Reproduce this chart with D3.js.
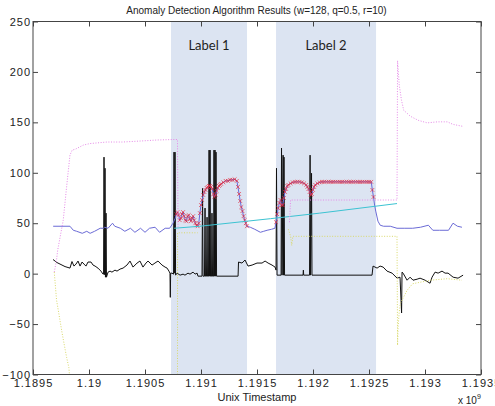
<!DOCTYPE html>
<html>
<head>
<meta charset="utf-8">
<script src="https://cdn.jsdelivr.net/npm/d3@7"></script>
<style>
body { margin: 0; background: #fff; }
text { font-family: "Liberation Sans", Arial, sans-serif; }
</style>
</head>
<body>
<svg id="chart" width="495" height="406"></svg>
<script>
// timestamps are in units of 1e9 s (axis shows "x 10^9")
var titleText = "Anomaly Detection Algorithm Results (w=128, q=0.5, r=10)";
var xTicks = [1.1895, 1.19, 1.1905, 1.191, 1.1915, 1.192, 1.1925, 1.193, 1.1935];
var xTickLabels = ["1.1895", "1.19", "1.1905", "1.191", "1.1915", "1.192", "1.1925", "1.193", "1.1935"];
var yTicks = [-100, -50, 0, 50, 100, 150, 200, 250];

// labelled regions
var labelNames = ["Label 1", "Label 2"];
var labelRanges = [[1.190732, 1.191411], [1.19167, 1.192563]];

// ranges flagged by the detector (red x markers)
var detected = [[1.19078, 1.19141], [1.19167, 1.19254]];

// raw signal (black)
var signal = [
  [1.189679, 14], [1.189714, 11], [1.18975, 9], [1.189786, 7], [1.18983, 5.5], [1.189848, 12],
  [1.189866, 7.5], [1.189884, 9.5], [1.189902, 12.5], [1.18992, 7.5], [1.189938, 11.5], [1.189955, 9.5],
  [1.189973, 7.5], [1.189991, 11.5], [1.190018, 11.5], [1.190036, 8.5], [1.190054, 7.5], [1.19008, 5.5],
  [1.190107, 2.5], [1.190125, -0.5], [1.19013, -0.5], [1.190134, 115.5], [1.190139, -1], [1.190143, 104.5],
  [1.190147, -3.5], [1.190152, 60], [1.190156, -3.5], [1.19017, 1.5], [1.190188, 2.5], [1.190205, 1.5],
  [1.190232, 3.5], [1.19025, 2.5], [1.190277, 4.5], [1.190304, 5.5], [1.190339, 8.5], [1.190366, 12.5],
  [1.190393, 6.5], [1.190429, 10.5], [1.190455, 12.5], [1.190482, 6.5], [1.190509, 10.5], [1.190527, 12.5],
  [1.190563, 8.5], [1.190589, 10.5], [1.190616, 12.5], [1.190652, 8.5], [1.190679, 6.5], [1.190697, 5.5],
  [1.190714, 2.5], [1.190723, 0.5], [1.190726, -23.5], [1.190729, 0.5], [1.190741, 0.5], [1.190755, -0.5],
  [1.190759, 120.5], [1.190764, 0.5], [1.190768, 120.5], [1.190773, -1.5], [1.190786, 0.5], [1.190813, -1.5],
  [1.19084, -0.5], [1.190857, -1.5], [1.190884, 0.5], [1.190902, -0.5], [1.190929, 1.5], [1.190947, -0.5],
  [1.190965, 0.5], [1.190973, -2.5], [1.191009, -2.5], [1.191014, 84.5], [1.191018, -2.5], [1.191031, -2.5],
  [1.191036, 65], [1.19104, -2.5], [1.191049, -2.5], [1.191054, 56], [1.191058, -2.5], [1.191067, -2.5],
  [1.191072, 122.5], [1.191076, -2.5], [1.191081, 122.5], [1.191085, -2.5], [1.191094, -2.5], [1.191098, 60],
  [1.191103, -2.5], [1.191112, -2.5], [1.191116, 122.5], [1.191121, -2.5], [1.191125, 122.5], [1.19113, -2.5],
  [1.191134, 120.5], [1.191139, -2.5], [1.191331, -2.5], [1.191335, 11.5], [1.191366, 10.5], [1.191393, 13.5],
  [1.19142, 7.5], [1.191456, 8.5], [1.1915, 10.5], [1.191545, 10.5], [1.191572, 12.5], [1.191599, 10.5],
  [1.191634, 8.5], [1.191661, 6.5], [1.19167, 3.5], [1.191674, 104.5], [1.191679, -1.5], [1.191715, -1.5],
  [1.191719, 124.5], [1.191724, -1.5], [1.191733, 117.5], [1.191737, -1.5], [1.191741, 115.5], [1.191746, -1.5],
  [1.191911, -1.5], [1.191914, 3.5], [1.191917, -1.5], [1.191969, -1.5], [1.191974, 117.5], [1.191978, -1.5],
  [1.191987, 99.5], [1.191991, -1.5], [1.192527, -1.5], [1.192536, 7.5], [1.192572, 5.5], [1.192599, 7.5],
  [1.192626, 6.5], [1.192661, 2.5], [1.192706, 0.5], [1.192751, -4.5], [1.192777, -3.5], [1.192791, -39],
  [1.192795, 1.5], [1.192804, 0.5], [1.19284, -6.5], [1.192867, -3.5], [1.192893, -6.5], [1.192929, -5.5],
  [1.192956, -4.5], [1.193001, -6.5], [1.193045, -9.5], [1.193063, -3.5], [1.19309, 1.5], [1.193117, 0.5],
  [1.193152, 2.5], [1.193179, 0.5], [1.193206, 0.5], [1.193251, -3.5], [1.193295, -4.5], [1.19334, -1.5]
];

// windowed statistic (blue)
var movingAvg = [
  [1.18968, 47], [1.18983, 47], [1.18986, 43], [1.18989, 42], [1.18994, 40], [1.18998, 42], [1.19001, 40],
  [1.19005, 42], [1.1901, 45], [1.19013, 45], [1.19014, 46], [1.19017, 45], [1.19021, 50], [1.19023, 47],
  [1.19028, 45], [1.19032, 42], [1.19037, 45], [1.19041, 41], [1.19046, 45], [1.1905, 41], [1.19054, 45],
  [1.19059, 46], [1.19063, 41], [1.19068, 45], [1.19072, 45], [1.19075, 50], [1.19077, 55],
  [1.19078, 59], [1.19079, 61], [1.1908, 58], [1.19081, 53], [1.19082, 55], [1.19083, 59], [1.19084, 61],
  [1.19085, 57], [1.19086, 53], [1.19087, 52], [1.19088, 57], [1.19089, 58], [1.1909, 54], [1.19091, 52],
  [1.19092, 55], [1.19093, 57], [1.19094, 53], [1.19095, 50], [1.19096, 48], [1.19097, 47], [1.19098, 50],
  [1.19099, 60], [1.191, 68], [1.19101, 73], [1.19102, 78], [1.19103, 81], [1.19104, 83], [1.19105, 85],
  [1.19106, 86], [1.19107, 87], [1.19108, 87], [1.19109, 86], [1.1911, 84], [1.19111, 79], [1.19112, 76],
  [1.19113, 78], [1.19114, 82], [1.19115, 85], [1.19116, 87], [1.19117, 88], [1.19118, 89], [1.1912, 90.5],
  [1.19122, 92], [1.19124, 92], [1.19126, 93], [1.19128, 93], [1.1913, 93.5], [1.19132, 92], [1.19133, 86],
  [1.19134, 79], [1.19135, 72], [1.19136, 66], [1.19137, 62], [1.19138, 57], [1.19139, 53], [1.1914, 50],
  [1.19141, 47],
  [1.19144, 46], [1.19148, 44], [1.19153, 41], [1.19156, 42], [1.19159, 43], [1.19163, 44], [1.19166, 45],
  [1.19167, 51], [1.19168, 59], [1.19169, 65], [1.1917, 70], [1.19171, 73], [1.19172, 68], [1.19173, 68],
  [1.19174, 75], [1.19175, 81], [1.19176, 84], [1.19177, 87], [1.19178, 88], [1.1918, 89.5], [1.19182, 90.5],
  [1.19184, 91], [1.19186, 91], [1.19188, 91], [1.1919, 90.5], [1.19192, 89.5], [1.19194, 88], [1.19195, 86],
  [1.19196, 84], [1.19197, 81], [1.19198, 78], [1.19199, 79], [1.192, 83], [1.19201, 86], [1.19202, 88],
  [1.19204, 89.5], [1.19206, 90.5], [1.19208, 91], [1.1921, 91], [1.19212, 91], [1.19214, 91], [1.19216, 91],
  [1.19218, 91], [1.1922, 91], [1.19222, 91], [1.19224, 91], [1.19226, 91], [1.19228, 91], [1.1923, 91],
  [1.19232, 91], [1.19234, 91], [1.19236, 91], [1.19238, 91], [1.1924, 91], [1.19242, 91], [1.19244, 91],
  [1.19246, 91], [1.19248, 91], [1.1925, 91], [1.19252, 91], [1.19253, 83], [1.19254, 76], [1.19255, 68],
  [1.19256, 62], [1.19258, 52], [1.1926, 48],
  [1.19263, 47], [1.19269, 47], [1.19275, 45], [1.19282, 45], [1.19289, 45], [1.19296, 46], [1.19303, 48],
  [1.19307, 43], [1.19313, 43], [1.19321, 43], [1.19325, 50], [1.19329, 47], [1.19333, 46]
];

// trend (cyan)
var trend = [[1.19076, 45], [1.19099, 47], [1.19162, 54.5], [1.19206, 60], [1.19275, 69.5]];

// upper bound (magenta dotted), null = gap
var upperBound = [
  [1.18969, 1.5], [1.18971, 13.5], [1.18972, 23], [1.18975, 41], [1.18977, 53], [1.1898, 86],
  [1.18983, 117.5], [1.18985, 122.5], [1.18988, 123.5], [1.18995, 127.5], [1.19001, 129], [1.19016, 130.5],
  [1.1903, 130.5], [1.19046, 131.5], [1.19061, 132.5], [1.19075, 133], [1.19079, 133], [1.190795, 44],
  [1.1912, null],
  [1.19179, 51], [1.1918, 73], [1.19275, 73], [1.192755, 211], [1.19277, 187], [1.19279, 172],
  [1.19281, 162], [1.19287, 156], [1.19294, 152], [1.19302, 149.5], [1.19311, 150.5], [1.1932, 150.5],
  [1.19325, 148], [1.19334, 146]
];

// lower bound (yellow dotted), null = gap
var lowerBound = [
  [1.18969, 1.5], [1.18971, -26], [1.18976, -59], [1.1898, -83], [1.18982, -93], [1.18983, -106],
  [1.18985, -125], [1.19079, -140], [1.190791, 40.5], [1.19097, 40.5],
  [1.1912, null],
  [1.19178, 44], [1.1918, 37], [1.19181, 28], [1.19182, 37], [1.19275, 37], [1.192755, -71],
  [1.19276, -52], [1.19277, -38], [1.19278, -29.5], [1.19284, -16.5], [1.19289, -10], [1.19305, -6.5],
  [1.1932, -5], [1.19333, -6.5]
];

var svg = d3.select("#chart"),
    margin = {top: 21.5, left: 33, bottom: 31.5, right: 14},
    width = +svg.attr("width"),
    height = +svg.attr("height");

var x = d3.scaleLinear()
  .domain([xTicks[0], xTicks[xTicks.length - 1]])
  .range([margin.left, width - margin.right]);
var y = d3.scaleLinear()
  .domain([yTicks[0], yTicks[yTicks.length - 1]])
  .range([height - margin.bottom, margin.top]);

svg.append("defs").append("clipPath").attr("id", "plot")
  .append("rect")
  .attr("x", margin.left).attr("y", margin.top)
  .attr("width", x.range()[1] - x.range()[0])
  .attr("height", y.range()[0] - y.range()[1]);

var plot = svg.append("g").attr("clip-path", "url(#plot)");

// label regions
plot.selectAll("rect.region")
  .data(labelRanges).enter().append("rect")
  .attr("class", "region")
  .attr("x", d => x(d[0]))
  .attr("width", d => x(d[1]) - x(d[0]))
  .attr("y", margin.top)
  .attr("height", y.range()[0] - y.range()[1])
  .attr("fill", "#dce4f2");

plot.selectAll("text.region")
  .data(labelRanges).enter().append("text")
  .attr("class", "region")
  .attr("x", d => (x(d[0]) + x(d[1])) / 2)
  .attr("y", 50)
  .attr("text-anchor", "middle")
  .style("font-family", "Lato, 'Open Sans', sans-serif")
  .style("font-size", "13px")
  .attr("fill", "#1e1e1e")
  .text((d, i) => labelNames[i]);

var line = d3.line()
  .defined(d => d[1] != null)
  .x(d => x(d[0]))
  .y(d => y(d[1]));

plot.append("path").datum(signal)
  .attr("d", line).attr("fill", "none")
  .attr("stroke", "#111").attr("stroke-width", 1);

plot.append("path").datum(movingAvg)
  .attr("d", line).attr("fill", "none")
  .attr("stroke", "#6b6bd6").attr("stroke-width", 1);

var flagged = movingAvg.filter(d => detected.some(r => d[0] >= r[0] && d[0] <= r[1]));
plot.selectAll("path.mark")
  .data(flagged).enter().append("path")
  .attr("class", "mark")
  .attr("transform", d => `translate(${x(d[0])},${y(d[1])})`)
  .attr("d", "M-1.9,-1.9L1.9,1.9M-1.9,1.9L1.9,-1.9")
  .attr("stroke", "#e3263a").attr("stroke-width", 0.8)
  .attr("stroke-opacity", 0.85).attr("fill", "none");

plot.append("path").datum(trend)
  .attr("d", line).attr("fill", "none")
  .attr("stroke", "#3cc3d2").attr("stroke-width", 1);

plot.append("path").datum(upperBound)
  .attr("d", line).attr("fill", "none")
  .attr("stroke", "#e68ae8").attr("stroke-width", 1)
  .attr("stroke-dasharray", "1,1.6");

plot.append("path").datum(lowerBound)
  .attr("d", line).attr("fill", "none")
  .attr("stroke", "#d8d86a").attr("stroke-width", 1)
  .attr("stroke-dasharray", "1,1.6");

// axes, MATLAB style box with inward ticks
var axisColor = "#444";
function styleAxis(g) {
  g.select(".domain").remove();
  g.selectAll(".tick line").attr("stroke", axisColor);
  g.selectAll(".tick text")
    .attr("fill", "#222")
    .style("font-size", "11px")
    .style("letter-spacing", "1px");
}

svg.append("g")
  .attr("transform", `translate(0,${y.range()[0]})`)
  .call(d3.axisBottom(x).tickValues(xTicks)
    .tickFormat((d, i) => xTickLabels[i]).tickSize(-5).tickPadding(5))
  .call(styleAxis);
svg.append("g")
  .attr("transform", `translate(0,${margin.top})`)
  .call(d3.axisTop(x).tickValues(xTicks).tickFormat("").tickSize(-5))
  .call(styleAxis);
svg.append("g")
  .attr("transform", `translate(${margin.left},0)`)
  .call(d3.axisLeft(y).tickValues(yTicks).tickSize(-5).tickPadding(2))
  .call(styleAxis);
svg.append("g")
  .attr("transform", `translate(${x.range()[1]},0)`)
  .call(d3.axisRight(y).tickValues(yTicks).tickFormat("").tickSize(-5))
  .call(styleAxis);

svg.append("rect")
  .attr("x", margin.left).attr("y", margin.top)
  .attr("width", x.range()[1] - x.range()[0])
  .attr("height", y.range()[0] - y.range()[1])
  .attr("fill", "none").attr("stroke", axisColor).attr("stroke-width", 1);

svg.append("text")
  .attr("x", 256.5).attr("y", 14)
  .attr("text-anchor", "middle")
  .style("font-size", "10px").attr("fill", "#222")
  .text(titleText);

svg.append("text")
  .attr("x", 257).attr("y", 401)
  .attr("text-anchor", "middle")
  .style("font-size", "11px").attr("fill", "#222")
  .text("Unix Timestamp");

var expo = svg.append("text")
  .attr("x", 458).attr("y", 404)
  .style("font-size", "10px").attr("fill", "#222");
expo.append("tspan").text("x 10");
expo.append("tspan").attr("dy", -5).style("font-size", "7px").text("9");
</script>
</body>
</html>
